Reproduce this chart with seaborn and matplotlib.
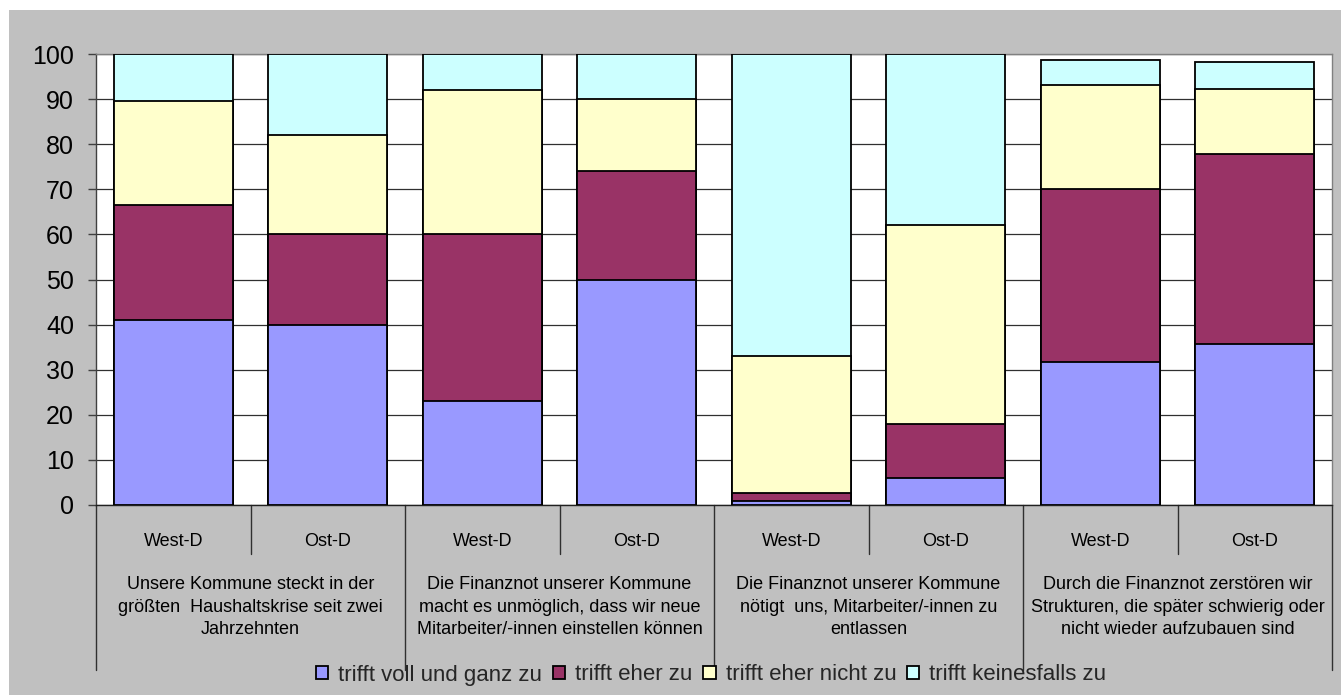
import numpy as np
import pandas as pd
import matplotlib
matplotlib.use("Agg")
import matplotlib.pyplot as plt
import seaborn as sns
from matplotlib.patches import Patch, Rectangle
from matplotlib.lines import Line2D

# ---- data -------------------------------------------------------------
regions = ["West-D", "Ost-D", "West-D", "Ost-D", "West-D", "Ost-D", "West-D", "Ost-D"]
statements = [
    "Unsere Kommune steckt in der\ngrößten  Haushaltskrise seit zwei\nJahrzehnten",
    "Die Finanznot unserer Kommune\nmacht es unmöglich, dass wir neue\nMitarbeiter/-innen einstellen können",
    "Die Finanznot unserer Kommune\nnötigt  uns, Mitarbeiter/-innen zu\nentlassen",
    "Durch die Finanznot zerstören wir\nStrukturen, die später schwierig oder\nnicht wieder aufzubauen sind",
]
answers = ["trifft voll und ganz zu", "trifft eher zu", "trifft eher nicht zu", "trifft keinesfalls zu"]

voll = [41.0, 40.0, 23.0, 50.0, 0.9, 6.0, 31.6, 35.7]
eher = [25.5, 20.0, 37.0, 24.0, 1.8, 12.0, 38.5, 42.2]
eher_nicht = [23.0, 22.0, 32.0, 16.0, 30.3, 44.0, 23.0, 14.3]
keinesfalls = [10.5, 18.0, 8.0, 10.0, 67.0, 38.0, 5.5, 6.0]
yticks = [0, 10, 20, 30, 40, 50, 60, 70, 80, 90, 100]

colors = ["#9999FF", "#993366", "#FFFFCC", "#CCFFFF"]

# ---- style ------------------------------------------------------------
sns.set_theme(style="white")
plt.rcParams["font.family"] = ["Liberation Sans", "DejaVu Sans"]

W, H = 1341, 695
fig = plt.figure(figsize=(W / 100, H / 100), dpi=100, facecolor="white")
fig.patches.append(Rectangle((9 / W, 0), 1 - 9 / W, (H - 10) / H,
                             transform=fig.transFigure, facecolor="#C0C0C0",
                             edgecolor="none", zorder=-10))

ax = fig.add_axes([96 / W, 190 / H, (1332 - 96) / W, (505 - 54) / H])
ax.set_facecolor("white")

layers = [voll, eher, eher_nicht, keinesfalls]
pos = np.arange(len(regions))
cum = np.cumsum(np.array(layers), axis=0)

# draw cumulative totals from the top layer down so each segment shows
for k in range(len(layers) - 1, -1, -1):
    df = pd.DataFrame({"pos": pos, "value": cum[k]})
    sns.barplot(data=df, x="pos", y="value", color=colors[k], saturation=1,
                width=0.77, edgecolor="black", linewidth=1.3, errorbar=None,
                ax=ax, zorder=3)

ax.set_xlim(-0.5, len(regions) - 0.5)
ax.set_ylim(0, 100)
ax.set_yticks(yticks)
ax.set_yticklabels([str(t) for t in yticks], fontsize=18, color="black")
ax.tick_params(axis="y", length=5.8, width=1, color="#404040", pad=10, left=True)
ax.set_xticks([])
ax.set_xlabel("")
ax.set_ylabel("")

ax.grid(axis="y", color="#303030", linewidth=0.9)
ax.set_axisbelow(True)
for side, col in [("left", "#404040"), ("bottom", "#202020"),
                  ("top", "#808080"), ("right", "#808080")]:
    ax.spines[side].set_visible(True)
    ax.spines[side].set_color(col)
    ax.spines[side].set_linewidth(1.0)

# ---- two-level category axis -----------------------------------------
xt = ax.get_xaxis_transform()
plot_h = 505 - 54
for i, r in enumerate(regions):
    ax.text(i, -36 / plot_h, r, transform=xt, ha="center", va="center",
            fontsize=13, color="black")
for g, s in enumerate(statements):
    ax.text(2 * g + 0.5, -102 / plot_h, s, transform=xt, ha="center",
            va="center", fontsize=13, linespacing=1.4, color="black")

for g in range(len(statements)):
    ax.add_line(Line2D([2 * g + 0.5] * 2, [0, -49 / plot_h], transform=xt,
                       color="#303030", linewidth=1.0, clip_on=False))
for b in range(len(statements) + 1):
    ax.add_line(Line2D([2 * b - 0.5] * 2, [0, -165 / plot_h], transform=xt,
                       color="#303030", linewidth=1.0, clip_on=False))

# ---- legend -----------------------------------------------------------
handles = [Patch(facecolor=c, edgecolor="black", linewidth=1.3) for c in colors]
fig.legend(handles, answers, loc="center", bbox_to_anchor=(711 / W, 20 / H),
           ncol=4, frameon=False, fontsize=16, handlelength=0.55,
           handleheight=0.55, handletextpad=0.45, columnspacing=0.5,
           borderaxespad=0, borderpad=0)

fig.savefig("out.png", dpi=100, facecolor=fig.get_facecolor())
